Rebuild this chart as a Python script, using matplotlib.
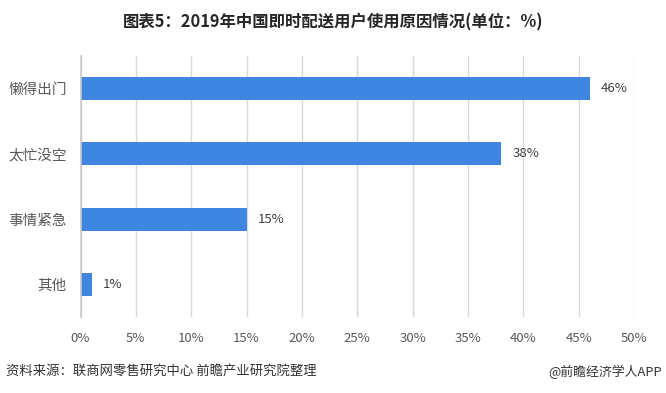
import matplotlib
matplotlib.use("Agg")
import matplotlib.pyplot as plt

plt.rcParams['font.family'] = ['Noto Sans CJK SC', 'DejaVu Sans']

categories = ["懒得出门", "太忙没空", "事情紧急", "其他"]
values = [46, 38, 15, 1]
xticks = [0, 5, 10, 15, 20, 25, 30, 35, 40, 45, 50]
xticklabels = [f"{v}%" for v in xticks]

W, H = 666, 393
fig = plt.figure(figsize=(W / 100, H / 100), dpi=100)
ax = fig.add_axes([80.5 / W, 1 - 317 / H, (634 - 80.5) / W, (317 - 56) / H])

ypos = list(range(len(categories)))
ax.barh(ypos, values, height=0.355, color="#3f86e0", zorder=3)
for y, v in zip(ypos, values):
    ax.text(v + 1.0, y, f"{v}%", va="center", ha="left", fontsize=9.5, color="#404040")

ax.set_ylim(len(categories) - 0.5, -0.5)
ax.set_xlim(0, 50)
ax.set_yticks(ypos)
ax.set_yticklabels(categories, fontsize=10.5, color="#595959")
ax.set_xticks(xticks)
ax.set_xticklabels(xticklabels, fontsize=9.5, color="#595959")
ax.tick_params(axis="both", length=0)
ax.tick_params(axis="y", pad=10)
ax.tick_params(axis="x", pad=11)
ax.grid(axis="x", color="#d9d9d9", linewidth=1, zorder=0)
for s in ["top", "right", "bottom"]:
    ax.spines[s].set_visible(False)
ax.spines["left"].set_color("#c8c8c8")
ax.spines["left"].set_linewidth(1.2)
ax.spines["left"].set_zorder(4)

fig.text(0.5, 1 - 22 / H, "图表5：2019年中国即时配送用户使用原因情况(单位：%)",
         ha="center", va="center", fontsize=11.8, fontweight="bold", color="#262626")
fig.text(6 / W, 1 - 372 / H, "资料来源：联商网零售研究中心 前瞻产业研究院整理",
         ha="left", va="center", fontsize=9.6, color="#333333")
fig.text(662 / W, 1 - 372 / H, "@前瞻经济学人APP",
         ha="right", va="center", fontsize=9.3, color="#333333")

fig.savefig("out.png", dpi=100)
